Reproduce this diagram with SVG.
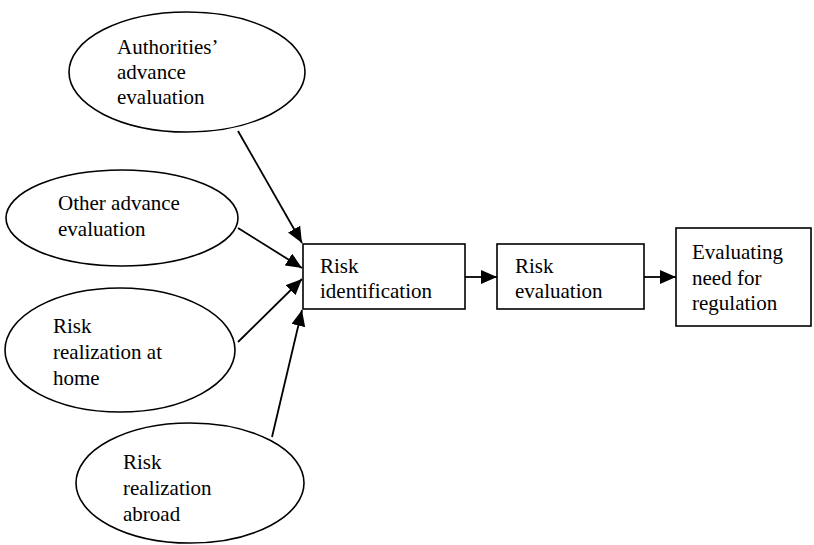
<svg xmlns="http://www.w3.org/2000/svg" width="814" height="545" viewBox="0 0 814 545">
<style>
.shape{fill:#fff;stroke:#000;stroke-width:1.6}
.c{stroke:#000;stroke-width:1.8;fill:none}
</style>
<defs>
<marker id="ah" markerUnits="userSpaceOnUse" markerWidth="18" markerHeight="14" refX="16" refY="7" orient="auto">
<path d="M0,0 L16,7 L0,14 Z" fill="#000"/>
</marker>
</defs>
<rect width="814" height="545" fill="#fff"/>
<g id="connectors">
<line class="c" x1="238" y1="131" x2="302" y2="243" marker-end="url(#ah)"/>
<line class="c" x1="238" y1="228" x2="302" y2="268" marker-end="url(#ah)"/>
<line class="c" x1="238" y1="342" x2="302" y2="279" marker-end="url(#ah)"/>
<line class="c" x1="272" y1="437" x2="302" y2="310" marker-end="url(#ah)"/>
<line class="c" x1="465" y1="277" x2="497" y2="277" marker-end="url(#ah)"/>
<line class="c" x1="644" y1="277" x2="676" y2="277" marker-end="url(#ah)"/>
</g>
<g font-family="Liberation Serif, Tinos, Noto Serif, DejaVu Serif, Times New Roman, serif" font-size="21" fill="#000">
<g id="authorities">
<ellipse class="shape" cx="187" cy="72" rx="118" ry="60"/>
<text x="117" y="54">Authorities’</text>
<text x="117" y="79">advance</text>
<text x="117" y="104">evaluation</text>
</g>
<g id="other">
<ellipse class="shape" cx="122" cy="218" rx="116" ry="48"/>
<text x="58" y="210">Other advance</text>
<text x="58" y="236">evaluation</text>
</g>
<g id="home">
<ellipse class="shape" cx="120" cy="350" rx="115" ry="62"/>
<text x="53" y="333">Risk</text>
<text x="53" y="359">realization at</text>
<text x="53" y="385">home</text>
</g>
<g id="abroad">
<ellipse class="shape" cx="190" cy="483" rx="114" ry="60"/>
<text x="123" y="469">Risk</text>
<text x="123" y="495">realization</text>
<text x="123" y="521">abroad</text>
</g>
<g id="identification">
<rect class="shape" x="303" y="244" width="162" height="65"/>
<text x="320" y="273">Risk</text>
<text x="320" y="298">identification</text>
</g>
<g id="evaluation">
<rect class="shape" x="497" y="244" width="147" height="65"/>
<text x="515" y="273">Risk</text>
<text x="515" y="298">evaluation</text>
</g>
<g id="regulation">
<rect class="shape" x="676" y="228" width="135" height="98"/>
<text x="692" y="259">Evaluating</text>
<text x="692" y="285">need for</text>
<text x="692" y="310">regulation</text>
</g>
</g>
</svg>
